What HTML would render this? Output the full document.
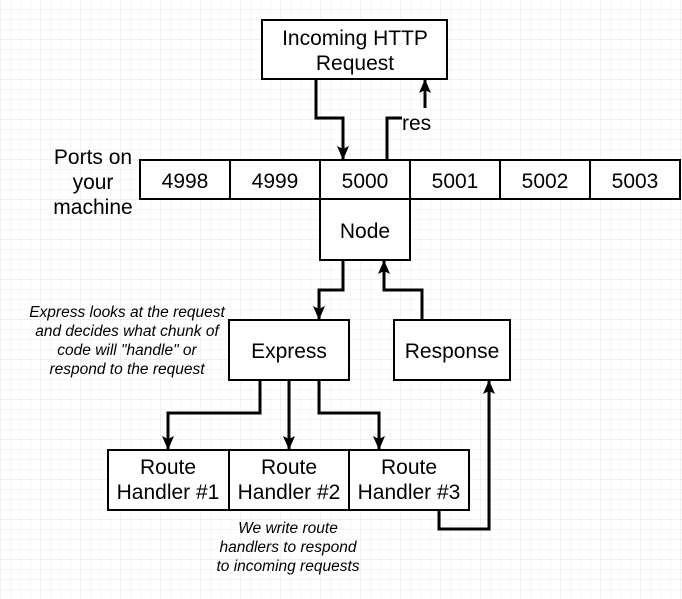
<!DOCTYPE html>
<html><head><style>
html,body{margin:0;padding:0;background:#fff}
svg{display:block}
text{font-family:"Liberation Sans",sans-serif;fill:#000}
</style></head><body>
<svg width="682" height="599" viewBox="0 0 682 599" xmlns="http://www.w3.org/2000/svg">
<defs>
<pattern id="g" width="10" height="10" patternUnits="userSpaceOnUse" x="1" y="0">
<path d="M10 0V10M0 10H10" stroke="#eeeeee" stroke-width="1" fill="none"/>
</pattern>
<pattern id="G" width="40" height="40" patternUnits="userSpaceOnUse" x="1" y="0">
<path d="M40 0V40M0 40H40" stroke="#e2e2e2" stroke-width="1" fill="none"/>
</pattern>
<marker id="a" markerWidth="16" markerHeight="14" refX="13" refY="6" orient="auto" markerUnits="userSpaceOnUse">
<path d="M0 0L14 6L0 12L3 6Z" fill="#000"/>
</marker>
</defs>
<rect width="682" height="599" fill="url(#g)"/>
<rect width="682" height="599" fill="url(#G)"/>
<g fill="#fff" stroke="#000" stroke-width="2">
<rect x="262" y="20" width="185" height="59"/>
<rect x="140" y="160" width="540" height="39"/>
<rect x="320" y="199" width="90" height="61"/>
<rect x="229" y="320" width="120" height="60"/>
<rect x="394" y="320" width="116" height="60"/>
<rect x="108" y="450" width="361" height="60"/>
</g>
<g stroke="#000" stroke-width="2">
<line x1="230" y1="160" x2="230" y2="199"/><line x1="320" y1="160" x2="320" y2="199"/>
<line x1="410" y1="160" x2="410" y2="199"/><line x1="500" y1="160" x2="500" y2="199"/>
<line x1="590" y1="160" x2="590" y2="199"/>
<line x1="229" y1="450" x2="229" y2="510"/><line x1="349" y1="450" x2="349" y2="510"/>
</g>
<g fill="none" stroke="#000" stroke-width="3">
<path d="M387 160V118H402"/>
</g>
<g fill="none" stroke="#000" stroke-width="3" marker-end="url(#a)">
<path d="M316 79V118H343V159"/>
<path d="M425 108V80"/>
<path d="M343 260V290H319V319"/>
<path d="M422 320V290H384V261"/>
<path d="M260 380V413H168V449"/>
<path d="M289 380V449"/>
<path d="M319 380V413H379V449"/>
<path d="M439 510V529H489V381"/>
</g>
<g font-size="21" text-anchor="middle">
<text x="355" y="45">Incoming HTTP</text>
<text x="355" y="70">Request</text>
<text x="402" y="130" text-anchor="start">res</text>
<text x="93" y="164">Ports on</text>
<text x="93" y="189">your</text>
<text x="93" y="214">machine</text>
<text x="185" y="188">4998</text><text x="275" y="188">4999</text>
<text x="365" y="188">5000</text><text x="455" y="188">5001</text>
<text x="545" y="188">5002</text><text x="635" y="188">5003</text>
<text x="365" y="238">Node</text>
<text x="289" y="358">Express</text>
<text x="452" y="358">Response</text>
<text x="168" y="474">Route</text><text x="168" y="499">Handler #1</text>
<text x="289" y="474">Route</text><text x="289" y="499">Handler #2</text>
<text x="409" y="474">Route</text><text x="409" y="499">Handler #3</text>
</g>
<g font-size="15.5" font-style="italic" text-anchor="middle">
<text x="127" y="317">Express looks at the request</text>
<text x="127" y="336">and decides what chunk of</text>
<text x="127" y="355">code will "handle" or</text>
<text x="127" y="374">respond to the request</text>
<text x="288" y="533">We write route</text>
<text x="288" y="552">handlers to respond</text>
<text x="288" y="571">to incoming requests</text>
</g>
</svg>
</body></html>
